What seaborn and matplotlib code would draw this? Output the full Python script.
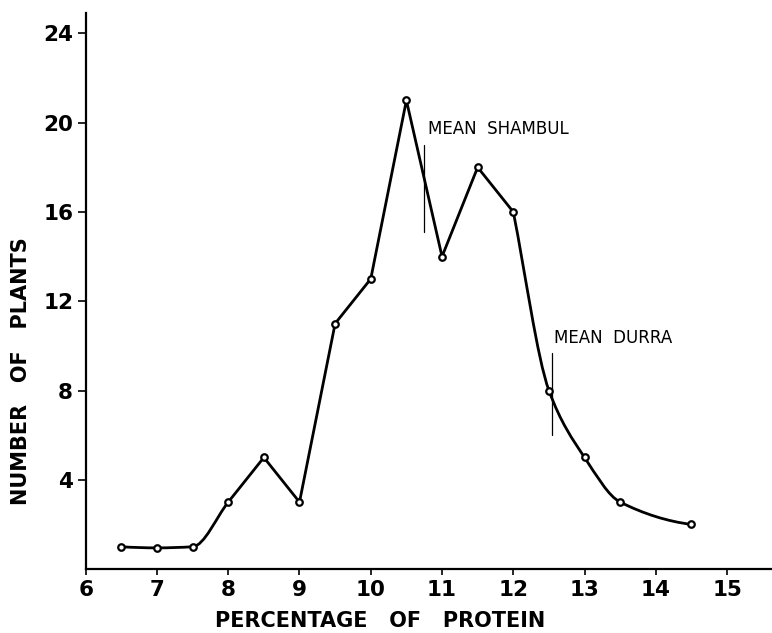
import numpy as np
import matplotlib
matplotlib.use("Agg")
import matplotlib.pyplot as plt
from matplotlib.path import Path
from matplotlib.patches import PathPatch
import seaborn as sns

# readings
protein = [6.5, 7.0, 7.5, 8.0, 8.5, 9.0, 9.5, 10.0, 10.5, 11.0, 11.5, 12.0, 12.5, 13.0, 13.5, 14.5]
plants = [1.0, 0.95, 1.0, 3.0, 5.0, 3.0, 11.0, 13.0, 21.0, 14.0, 18.0, 16.0, 8.0, 5.0, 3.0, 2.0]
# points where the hand drawn curve has a kink
corners = [8.5, 9.0, 9.5, 10.0, 10.5, 11.0, 11.5, 12.0]

x_ticks = [6, 7, 8, 9, 10, 11, 12, 13, 14, 15]
y_ticks = [4, 8, 12, 16, 20, 24]

mean_shambul = 10.75
mean_durra = 12.55

sns.set_theme(style="white")
plt.rcParams["font.family"] = ["DejaVu Sans"]

fig = plt.figure(figsize=(7.72, 6.33), dpi=100)
ax = fig.add_axes([0.111, 0.101, 0.889, 0.878])

# smooth curve: hermite segments (pchip-like slopes), one-sided at the kinks
xs = np.array(protein)
ys = np.array(plants)
n = len(xs)
sec = np.diff(ys) / np.diff(xs)
d_left = np.zeros(n)
d_right = np.zeros(n)
for i in range(1, n - 1):
    a, b = sec[i - 1], sec[i]
    if xs[i] in corners:
        d_left[i], d_right[i] = a, b
    elif a * b > 0:
        d_left[i] = d_right[i] = 2 / (1 / a + 1 / b)
d_right[0] = 2 * sec[0] - d_left[1]
d_left[-1] = 2 * sec[-1] - d_right[-2]

verts = [(xs[0], ys[0])]
codes = [Path.MOVETO]
for i in range(n - 1):
    h = xs[i + 1] - xs[i]
    verts += [(xs[i] + h / 3, ys[i] + d_right[i] * h / 3),
              (xs[i + 1] - h / 3, ys[i + 1] - d_left[i + 1] * h / 3),
              (xs[i + 1], ys[i + 1])]
    codes += [Path.CURVE4] * 3
ax.add_patch(PathPatch(Path(verts, codes), fill=False, lw=2.0, ec="black",
                       capstyle="round", joinstyle="round", zorder=2))

sns.scatterplot(x=protein, y=plants, ax=ax, s=22, color="white",
                edgecolor="black", linewidth=1.6, zorder=3, legend=False)

# mean markers
ax.plot([mean_shambul, mean_shambul], [15.1, 19.0], color="black", lw=0.9)
ax.text(mean_shambul + 0.06, 19.7, "MEAN  SHAMBUL", fontsize=12, va="center", ha="left",
        color="black")
ax.plot([mean_durra, mean_durra], [6.0, 9.7], color="black", lw=0.9)
ax.text(mean_durra + 0.02, 10.35, "MEAN  DURRA", fontsize=12, va="center", ha="left",
        color="black")

ax.set_xlim(6, 15.63)
ax.set_ylim(0, 24.9)
ax.set_xticks(x_ticks)
ax.set_yticks(y_ticks)
ax.tick_params(axis="both", direction="out", width=1.2, colors="black",
               labelsize=15.5, left=True, bottom=True)
ax.tick_params(axis="x", length=4, pad=4)
ax.tick_params(axis="y", length=6, pad=3)
for lab in ax.get_xticklabels() + ax.get_yticklabels():
    lab.set_fontweight("bold")
for s in ["top", "right"]:
    ax.spines[s].set_visible(False)
for s in ["left", "bottom"]:
    ax.spines[s].set_color("black")
    ax.spines[s].set_linewidth(1.6)

ax.set_xlabel("PERCENTAGE   OF   PROTEIN", fontsize=15, color="black", fontweight="bold")
ax.set_ylabel("NUMBER   OF   PLANTS", fontsize=15, color="black", fontweight="bold")
ax.xaxis.set_label_coords(0.429, -0.075)
ax.yaxis.set_label_coords(-0.08, 0.356)

fig.savefig("out.png", dpi=100)
